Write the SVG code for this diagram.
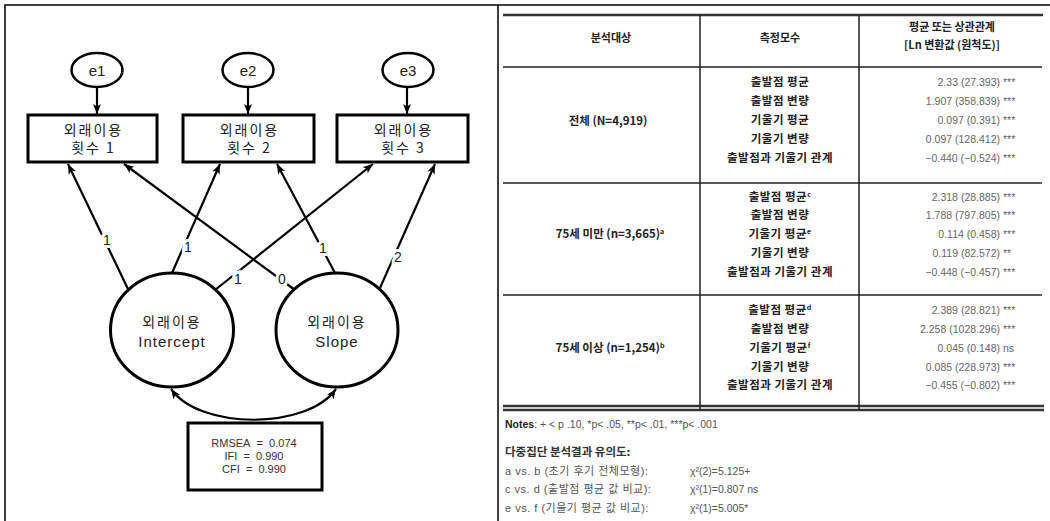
<svg xmlns="http://www.w3.org/2000/svg" width="1050" height="521" viewBox="0 0 1050 521">
<style>
.bd{fill:none;stroke:#000;stroke-width:1.5}
.obs{fill:#fff;stroke:#000;stroke-width:3}
.lat{fill:none;stroke:#000;stroke-width:3}
.err{fill:#fff;stroke:#000;stroke-width:2.5}
.kr{font-family:"Noto Sans CJK KR","Noto Sans",sans-serif;font-size:14px;fill:#222;text-anchor:middle;letter-spacing:2px}
.en{font-family:"Liberation Sans",Arial,sans-serif;font-size:15px;fill:#222;text-anchor:middle}
.pa{fill:none;stroke:#000;stroke-width:2.2;marker-end:url(#arr)}
.cov{fill:none;stroke:#000;stroke-width:2.2;marker-end:url(#arr);marker-start:url(#arr)}
.lbl{font-family:"Liberation Sans",Arial,sans-serif;font-size:14px;fill:#222;text-anchor:middle;paint-order:stroke;stroke:#fff;stroke-width:6px}
.fit{font-family:"Liberation Sans",Arial,sans-serif;font-size:11px;fill:#333;text-anchor:middle}
.tk{stroke:#333;stroke-width:2.5;fill:none}
.tn{stroke:#222;stroke-width:1.5;fill:none}
.hd{font-family:"Noto Sans CJK KR",sans-serif;font-size:11px;font-weight:bold;fill:#222;text-anchor:middle}
.pm{font-family:"Noto Sans CJK KR",sans-serif;font-size:11.5px;font-weight:bold;fill:#222;text-anchor:middle;letter-spacing:0.5px}
.gp{font-family:"Noto Sans CJK KR",sans-serif;font-size:11.5px;font-weight:bold;fill:#222;text-anchor:middle}
.val{font-family:"Liberation Sans",Arial,sans-serif;font-size:10.5px;fill:#666;text-anchor:end}
.st{font-family:"Liberation Sans",Arial,sans-serif;font-size:10.5px;fill:#666}
.nt{font-family:"Liberation Sans","Noto Sans CJK KR",sans-serif;font-size:10.5px;fill:#555}
.nk{font-family:"Liberation Sans","Noto Sans CJK KR",sans-serif;font-size:11px;fill:#555;letter-spacing:0.5px}
.nb{font-family:"Noto Sans CJK KR",sans-serif;font-size:11.5px;font-weight:bold;fill:#333}
.sup{font-size:7px}
</style>
<defs>
<marker id="arr" markerUnits="userSpaceOnUse" markerWidth="11" markerHeight="9" refX="10" refY="4.5" orient="auto-start-reverse">
<path d="M0,0.5 L10,4.5 L0,8.5 L2.5,4.5 z" fill="#000"/>
</marker>
</defs>
<rect width="1050" height="521" fill="#fff"/>
<g id="frame">
<path class="bd" d="M5,521 V5 H1050 M498,5 V521"/>
</g>
<g id="connectors">
<line class="pa" x1="97" y1="87" x2="97" y2="114"/>
<line class="pa" x1="248" y1="87" x2="248" y2="114"/>
<line class="pa" x1="407" y1="87" x2="407" y2="114"/>
<line class="pa" x1="128" y1="289" x2="68" y2="164"/>
<line class="pa" x1="172" y1="273" x2="220" y2="164"/>
<line class="pa" x1="215" y1="290" x2="373" y2="164"/>
<line class="pa" x1="295" y1="290" x2="124" y2="164"/>
<line class="pa" x1="335" y1="273" x2="277" y2="164"/>
<line class="pa" x1="380" y1="288" x2="435" y2="164"/>
<path class="cov" d="M171,389 C200,430 307,430 336,389"/>
<text class="lbl" x="107" y="245">1</text>
<text class="lbl" x="188" y="252">1</text>
<text class="lbl" x="238" y="284">1</text>
<text class="lbl" x="282" y="284">0</text>
<text class="lbl" x="323" y="253">1</text>
<text class="lbl" x="398" y="262">2</text>
</g>
<g id="e1"><ellipse class="err" cx="97" cy="70" rx="25.5" ry="17"/><text class="en" x="97" y="75.5" font-size="16">e1</text></g>
<g id="e2"><ellipse class="err" cx="248" cy="70" rx="25.5" ry="17"/><text class="en" x="248" y="75.5" font-size="16">e2</text></g>
<g id="e3"><ellipse class="err" cx="408" cy="70" rx="25.5" ry="17"/><text class="en" x="408" y="75.5" font-size="16">e3</text></g>
<g id="box1"><rect class="obs" x="28" y="115" width="129" height="47"/><text class="kr" x="93.5" y="135">외래이용</text><text class="kr" x="93.5" y="153">횟수 1</text></g>
<g id="box2"><rect class="obs" x="183" y="115" width="131" height="47"/><text class="kr" x="249.5" y="135">외래이용</text><text class="kr" x="249.5" y="153">횟수 2</text></g>
<g id="box3"><rect class="obs" x="337" y="115" width="131" height="47"/><text class="kr" x="403.5" y="135">외래이용</text><text class="kr" x="403.5" y="153">횟수 3</text></g>
<g id="intercept"><ellipse class="lat" cx="172" cy="330" rx="61.5" ry="57"/><text class="kr" x="172" y="327" font-size="15">외래이용</text><text class="en" x="172" y="347" letter-spacing="1">Intercept</text></g>
<g id="slope"><ellipse class="lat" cx="337" cy="330" rx="61" ry="57"/><text class="kr" x="337" y="327" font-size="15">외래이용</text><text class="en" x="337" y="347" letter-spacing="1">Slope</text></g>
<g id="fitbox"><rect class="obs" x="188" y="423" width="134" height="67"/><text class="fit" x="254" y="447">RMSEA&#160; = &#160;0.074</text><text class="fit" x="254" y="460">IFI&#160; = &#160;0.990</text><text class="fit" x="254" y="473">CFI&#160; = &#160;0.990</text></g>

<g id="table">
<path class="tk" d="M503,15 H1043"/>
<path class="tn" d="M503,67 H1042 M503,183 H1042 M503,295 H1042"/>
<path class="tk" d="M503,406 H1044 M503,410 H1044"/>
<path class="tn" d="M700,15 V410 M859,15 V410"/>
<g id="header">
<text class="hd" x="611" y="42">분석대상</text>
<text class="hd" x="780" y="42">측정모수</text>
<text class="hd" x="952" y="31">평균 또는 상관관계</text>
<text class="hd" x="952" y="49">[Ln 변환값 (원척도)]</text>
</g>
<g id="row1">
<text class="gp" x="608" y="125">전체 (N=4,919)</text>
<text class="pm" x="780" y="86">출발점 평균</text>
<text class="pm" x="780" y="105">출발점 변량</text>
<text class="pm" x="780" y="124">기울기 평균</text>
<text class="pm" x="780" y="143">기울기 변량</text>
<text class="pm" x="780" y="162">출발점과 기울기 관계</text>
<text class="val" x="1000" y="86">2.33 (27.393)</text><text class="st" x="1003" y="86">***</text>
<text class="val" x="1000" y="105">1.907 (358.839)</text><text class="st" x="1003" y="105">***</text>
<text class="val" x="1000" y="124">0.097 (0.391)</text><text class="st" x="1003" y="124">***</text>
<text class="val" x="1000" y="143">0.097 (128.412)</text><text class="st" x="1003" y="143">***</text>
<text class="val" x="1000" y="162">−0.440 (−0.524)</text><text class="st" x="1003" y="162">***</text>
</g>
<g id="row2">
<text class="gp" x="610" y="238">75세 미만 (n=3,665)<tspan class="sup" dy="-4">a</tspan></text>
<text class="pm" x="780" y="201">출발점 평균<tspan class="sup" dy="-4">c</tspan></text>
<text class="pm" x="780" y="219">출발점 변량</text>
<text class="pm" x="780" y="238">기울기 평균<tspan class="sup" dy="-4">e</tspan></text>
<text class="pm" x="780" y="257">기울기 변량</text>
<text class="pm" x="780" y="276">출발점과 기울기 관계</text>
<text class="val" x="1000" y="201">2.318 (28.885)</text><text class="st" x="1003" y="201">***</text>
<text class="val" x="1000" y="219">1.788 (797.805)</text><text class="st" x="1003" y="219">***</text>
<text class="val" x="1000" y="238">0.114 (0.458)</text><text class="st" x="1003" y="238">***</text>
<text class="val" x="1000" y="257">0.119 (82.572)</text><text class="st" x="1003" y="257">**</text>
<text class="val" x="1000" y="276">−0.448 (−0.457)</text><text class="st" x="1003" y="276">***</text>
</g>
<g id="row3">
<text class="gp" x="610" y="352">75세 이상 (n=1,254)<tspan class="sup" dy="-4">b</tspan></text>
<text class="pm" x="780" y="314">출발점 평균<tspan class="sup" dy="-4">d</tspan></text>
<text class="pm" x="780" y="333">출발점 변량</text>
<text class="pm" x="780" y="352">기울기 평균<tspan class="sup" dy="-4">f</tspan></text>
<text class="pm" x="780" y="371">기울기 변량</text>
<text class="pm" x="780" y="389">출발점과 기울기 관계</text>
<text class="val" x="1000" y="314">2.389 (28.821)</text><text class="st" x="1003" y="314">***</text>
<text class="val" x="1000" y="333">2.258 (1028.296)</text><text class="st" x="1003" y="333">***</text>
<text class="val" x="1000" y="352">0.045 (0.148)</text><text class="st" x="1003" y="352">ns</text>
<text class="val" x="1000" y="371">0.085 (228.973)</text><text class="st" x="1003" y="371">***</text>
<text class="val" x="1000" y="389">−0.455 (−0.802)</text><text class="st" x="1003" y="389">***</text>
</g>
<g id="notes">
<text class="nt" x="505" y="428"><tspan font-weight="bold" fill="#222">Notes</tspan>: + &lt; p .10, *p&lt; .05, **p&lt; .01, ***p&lt; .001</text>
<text class="nb" x="505" y="456">다중집단 분석결과 유의도:</text>
<text class="nk" x="505" y="475">a vs. b (초기 후기 전체모형):</text><text class="nt" x="690" y="475">χ²(2)=5.125+</text>
<text class="nk" x="505" y="493">c vs. d (출발점 평균 값 비교):</text><text class="nt" x="690" y="493">χ²(1)=0.807 ns</text>
<text class="nk" x="505" y="512">e vs. f (기울기 평균 값 비교):</text><text class="nt" x="690" y="512">χ²(1)=5.005*</text>
</g>
</g>
</svg>
